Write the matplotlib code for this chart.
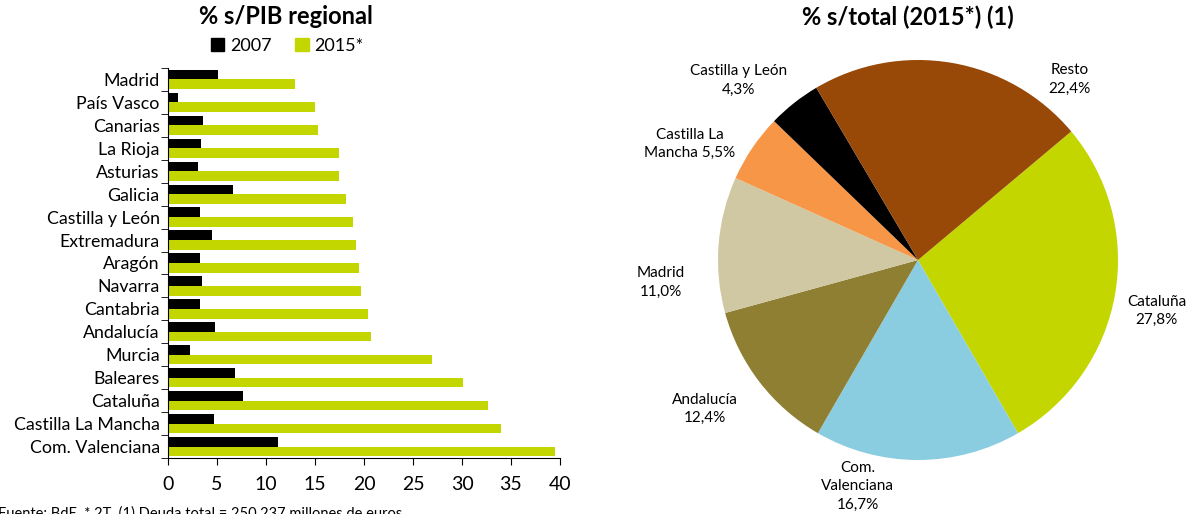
import numpy as np
import matplotlib
matplotlib.use("Agg")
import matplotlib.pyplot as plt
from matplotlib.patches import Patch

plt.rcParams["font.family"] = ["Lato", "DejaVu Sans"]

# Barras: % s/PIB regional (de arriba hacia abajo)
regiones = ["Madrid", "País Vasco", "Canarias", "La Rioja", "Asturias", "Galicia",
            "Castilla y León", "Extremadura", "Aragón", "Navarra", "Cantabria",
            "Andalucía", "Murcia", "Baleares", "Cataluña", "Castilla La Mancha",
            "Com. Valenciana"]
deuda_2007 = [5.1, 1.0, 3.6, 3.4, 3.1, 6.6, 3.3, 4.5, 3.3, 3.5, 3.3,
              4.8, 2.2, 6.8, 7.7, 4.7, 11.2]
deuda_2015 = [13.0, 15.0, 15.3, 17.4, 17.4, 18.2, 18.9, 19.2, 19.5, 19.7, 20.4,
              20.7, 26.9, 30.1, 32.7, 34.0, 39.5]

# Tarta: % s/total (2015*)
tarta_nombres = ["Cataluña", "Com.\nValenciana", "Andalucía", "Madrid",
                 "Castilla La\nMancha", "Castilla y León", "Resto"]
tarta_valores = [27.8, 16.7, 12.4, 11.0, 5.5, 4.3, 22.4]
tarta_textos = ["27,8%", "16,7%", "12,4%", "11,0%", "5,5%", "4,3%", "22,4%"]

VERDE = "#C4D600"
tarta_colores = [VERDE, "#8BCDE0", "#8F7F33", "#CFC8A2", "#F79646", "#000000", "#984807"]

W, H = 1194, 514
fig = plt.figure(figsize=(W / 100, H / 100), dpi=100)

# --- Barras ---
ax = fig.add_axes([168 / W, (H - 458) / H, 392 / W, 390 / H])
y = np.arange(len(regiones))
alto = 0.42
ax.barh(y - alto / 2, deuda_2007, height=alto, color="black", linewidth=0)
ax.barh(y + alto / 2, deuda_2015, height=alto, color=VERDE, linewidth=0)
ax.set_ylim(len(regiones) - 0.5, -0.5)
ax.set_xlim(0, 40)
ax.set_xticks(np.arange(0, 41, 5))
ax.tick_params(axis="x", labelsize=14, length=5, direction="out", pad=8)
ax.set_yticks(y)
ax.set_yticklabels(regiones, fontsize=12.8)
ax.set_yticks(np.arange(-0.5, len(regiones)), minor=True)
ax.tick_params(axis="y", which="major", length=0, pad=6)
ax.tick_params(axis="y", which="minor", length=5, direction="out")
for lado in ["top", "right"]:
    ax.spines[lado].set_visible(False)

fig.text(286 / W, 1 - 17 / H, "% s/PIB regional", ha="center", va="center",
         fontsize=17, fontweight="bold")
fig.legend(handles=[Patch(color="black", label="2007"), Patch(color=VERDE, label="2015*")],
           loc="center", bbox_to_anchor=(287 / W, 1 - 46 / H), ncol=2, frameon=False,
           fontsize=13, handlelength=0.75, handleheight=0.75, handletextpad=0.3,
           columnspacing=1.3)

fig.text(-2 / W, 8 / H, "Fuente: BdE. * 2T. (1) Deuda total = 250.237 millones de euros",
         ha="left", va="top", fontsize=10.5)

# --- Tarta ---
axp = fig.add_axes([(918 - 250) / W, (H - 260 - 250) / H, 500 / W, 500 / H])
cunas, _ = axp.pie(tarta_valores, colors=tarta_colores, startangle=40,
                   counterclock=False, radius=1.0,
                   wedgeprops=dict(linewidth=0))
axp.set_xlim(-1.25, 1.25)
axp.set_ylim(-1.25, 1.25)
axp.set_aspect("equal")
axp.axis("off")

# posicion de etiquetas (angulo en grados, distancia relativa al radio)
etiq_ang = [-12, -105, -145, 185, 153, 135, 50]
etiq_dist = [1.22, 1.17, 1.30, 1.29, 1.28, 1.27, 1.18]
for nombre, texto, ang, dist in zip(tarta_nombres, tarta_textos, etiq_ang, etiq_dist):
    a = np.deg2rad(ang)
    if nombre.startswith("Castilla La"):
        etiqueta = "Castilla La\nMancha " + texto
    else:
        etiqueta = nombre + "\n" + texto
    axp.text(dist * np.cos(a), dist * np.sin(a), etiqueta, ha="center", va="center",
             fontsize=11, linespacing=1.4, clip_on=False)

fig.text(908 / W, 1 - 17 / H, "% s/total (2015*) (1)", ha="center", va="center",
         fontsize=17, fontweight="bold")

fig.savefig("out.png", dpi=100)
